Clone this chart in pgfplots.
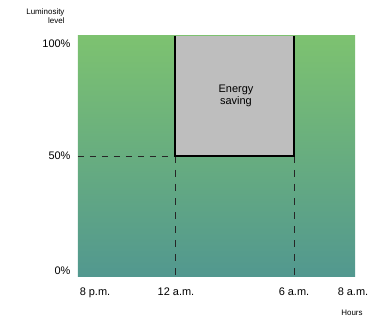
\documentclass[border=0pt]{standalone}
\usepackage{pgfplots}
\pgfplotsset{compat=1.18}
\usepackage{fontspec}
\setmainfont{Liberation Sans}
\definecolor{topg}{RGB}{125,194,112}
\definecolor{botg}{RGB}{82,152,143}
\definecolor{boxg}{RGB}{190,190,190}
\begin{document}
\begin{tikzpicture}[x=1bp,y=1bp]
\path[use as bounding box] (-78,-40) rectangle (299,276);
\begin{axis}[
  at={(0,0)}, anchor=south west,
  scale only axis, width=277bp, height=240bp,
  xmin=0, xmax=277, ymin=0, ymax=100,
  axis line style={draw=none},
  major tick length=0pt,
  axis background/.style={top color=topg, bottom color=botg},
  xtick={17,98,216,275},
  xticklabels={8 p.m., 12 a.m., 6 a.m., 8 a.m.},
  ytick={0,50,100},
  yticklabels={\raisebox{2bp}[0pt][0pt]{0\%}, 50\%, \raisebox{-12bp}[0pt][0pt]{100\%}},
  tick label style={font=\fontsize{11}{13}\selectfont},
  xticklabel style={yshift=-8bp},
  yticklabel style={xshift=-4bp},
  /pgf/number format/assume math mode=true,
  clip=false,
]
\addplot[fill=boxg, draw=none] coordinates {(97,50) (216,50) (216,100) (97,100)} -- cycle;
\addplot[black!85, line width=0.9pt, dash pattern=on 6bp off 6bp] coordinates {(0,50) (97,50)};
\addplot[black!85, line width=0.9pt, dash pattern=on 7bp off 7bp] coordinates {(97,50) (97,0)};
\addplot[black!85, line width=0.9pt, dash pattern=on 7bp off 7bp] coordinates {(216,50) (216,0)};
\addplot[black, line width=2pt] coordinates {(97,100) (97,50) (216,50) (216,100)};
\node[align=center, font=\fontsize{11}{12}\selectfont] at (axis cs:158,75) {Energy\\saving};
\node[align=right, anchor=north east, font=\fontsize{8}{9.5}\selectfont] at (axis cs:-10,113) {Luminosity\\level};
\node[anchor=north, font=\fontsize{8}{9}\selectfont] at (axis cs:274,-12.5) {Hours};
\end{axis}
\end{tikzpicture}
\end{document}
